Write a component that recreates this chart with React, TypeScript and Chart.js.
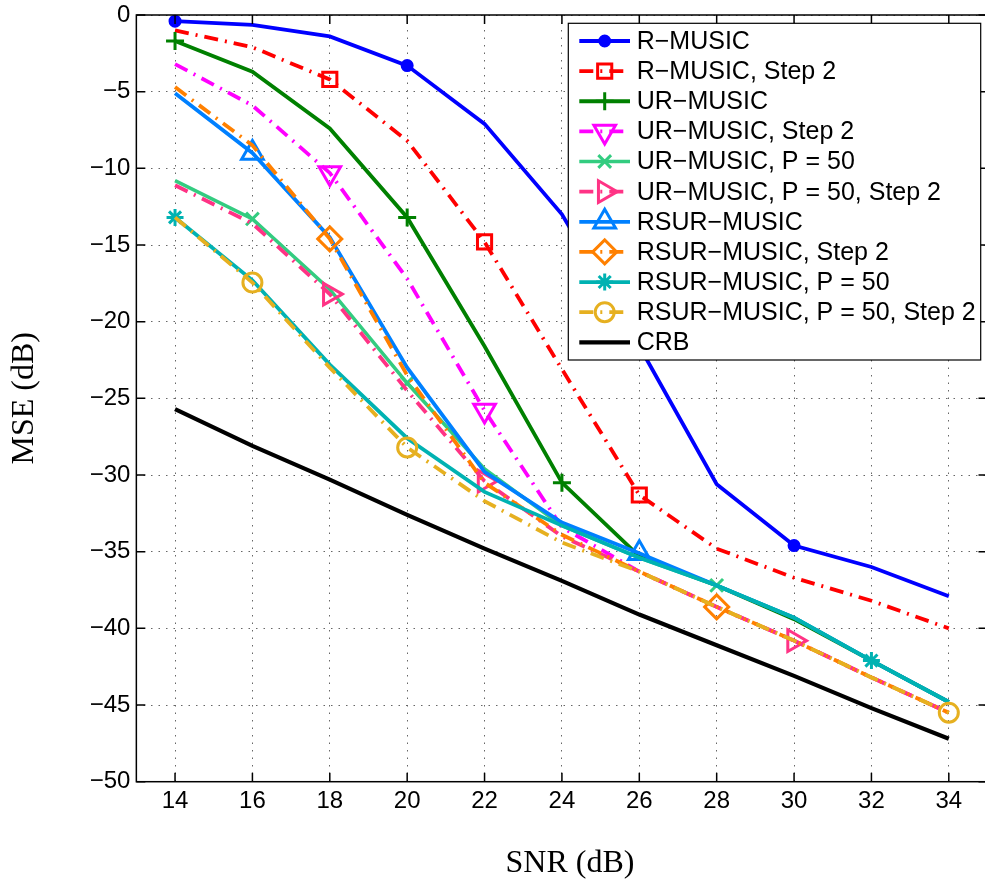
import React, { useEffect, useRef } from 'react';
import { Chart, registerables } from 'chart.js';
import { drawPoint } from 'chart.js/helpers';

Chart.register(...registerables);

// ---------- data ----------
const SNR = [14, 16, 18, 20, 22, 24, 26, 28, 30, 32, 34];
const X_TICKS = [14, 16, 18, 20, 22, 24, 26, 28, 30, 32, 34];
const Y_TICKS = [0, -5, -10, -15, -20, -25, -30, -35, -40, -45, -50];

const LABELS = [
  'R\u2212MUSIC',
  'R\u2212MUSIC, Step 2',
  'UR\u2212MUSIC',
  'UR\u2212MUSIC, Step 2',
  'UR\u2212MUSIC, P = 50',
  'UR\u2212MUSIC, P = 50, Step 2',
  'RSUR\u2212MUSIC',
  'RSUR\u2212MUSIC, Step 2',
  'RSUR\u2212MUSIC, P = 50',
  'RSUR\u2212MUSIC, P = 50, Step 2',
  'CRB',
];

const R_MUSIC = [-0.4, -0.65, -1.4, -3.3, -7.1, -13.0, -21.6, -30.6, -34.6, -36.0, -37.9];
const R_MUSIC_STEP2 = [-1.0, -2.1, -4.2, -8.2, -14.8, -23.1, -31.3, -34.8, -36.7, -38.2, -40.0];
const UR_MUSIC = [-1.7, -3.7, -7.4, -13.2, -21.6, -30.5, -35.3, -37.2, -39.4, -42.1, -44.8];
const UR_MUSIC_STEP2 = [-3.2, -5.9, -10.3, -17.2, -25.8, -33.4, -36.3, -38.6, -40.8, -43.2, -45.5];
const UR_MUSIC_P50 = [-10.8, -13.3, -17.9, -24.0, -29.6, -33.3, -35.4, -37.2, -39.3, -42.1, -44.8];
const UR_MUSIC_P50_STEP2 = [-11.1, -13.6, -18.2, -24.5, -30.4, -34.0, -36.3, -38.6, -40.8, -43.2, -45.5];
const RSUR_MUSIC = [-5.1, -9.0, -14.5, -23.0, -29.8, -33.1, -35.1, -37.2, -39.3, -42.1, -44.8];
const RSUR_MUSIC_STEP2 = [-4.7, -8.5, -14.6, -23.5, -30.5, -33.9, -36.3, -38.6, -40.8, -43.2, -45.5];
const RSUR_MUSIC_P50 = [-13.2, -17.3, -22.8, -27.6, -31.1, -33.3, -35.4, -37.2, -39.3, -42.1, -44.8];
const RSUR_MUSIC_P50_STEP2 = [-13.2, -17.45, -23.0, -28.2, -31.7, -34.4, -36.3, -38.6, -40.8, -43.2, -45.5];
const CRB = [-25.7, -28.1, -30.3, -32.6, -34.8, -36.9, -39.1, -41.1, -43.1, -45.2, -47.2];

const SERIES = [
  R_MUSIC, R_MUSIC_STEP2, UR_MUSIC, UR_MUSIC_STEP2, UR_MUSIC_P50, UR_MUSIC_P50_STEP2,
  RSUR_MUSIC, RSUR_MUSIC_STEP2, RSUR_MUSIC_P50, RSUR_MUSIC_P50_STEP2, CRB,
];

// indices of points that carry a marker
const MARKS = [
  [0, 3, 8], [2, 4, 6], [0, 3, 5], [2, 4], [1, 3, 7], [2, 4, 8],
  [1, 6], [2, 7], [0, 9], [1, 3, 10], [],
];

// ---------- styles ----------
const DASHDOT = [14, 7, 2, 7];
type Sty = { color: string; dash: number[]; width: number; marker: string | null; radius: number; rot: number; fill: boolean };
const STYLES: Sty[] = [
  { color: '#0000FF', dash: [], width: 3.8, marker: 'circle', radius: 5, rot: 0, fill: true },
  { color: '#FF0000', dash: DASHDOT, width: 3.8, marker: 'rect', radius: 10, rot: 0, fill: false },
  { color: '#008000', dash: [], width: 3.8, marker: 'cross', radius: 9, rot: 0, fill: false },
  { color: '#FF00FF', dash: DASHDOT, width: 3.8, marker: 'triangle', radius: 12.5, rot: 180, fill: false },
  { color: '#33CC80', dash: [], width: 3.5, marker: 'crossRot', radius: 9, rot: 0, fill: false },
  { color: '#FF3385', dash: DASHDOT, width: 3.8, marker: 'triangle', radius: 12.5, rot: 90, fill: false },
  { color: '#0080FF', dash: [], width: 3.8, marker: 'triangle', radius: 12.5, rot: 0, fill: false },
  { color: '#FF8000', dash: DASHDOT, width: 3.8, marker: 'rectRot', radius: 12, rot: 0, fill: false },
  { color: '#00B2B2', dash: [], width: 3.8, marker: 'star', radius: 8.5, rot: 0, fill: false },
  { color: '#E6B020', dash: DASHDOT, width: 3.8, marker: 'circle', radius: 9.5, rot: 0, fill: false },
  { color: '#000000', dash: [], width: 4.2, marker: null, radius: 0, rot: 0, fill: false },
];
const MARK_W = 3;

const W = 1000;
const H = 890;
const LEFT = 136.35;
const RIGHT = 988.7;
const TOP = 15;
const BOTTOM = 781.7;
const SANS = "'Liberation Sans', Arial, Helvetica, sans-serif";
const SERIF = "'Liberation Serif', 'Times New Roman', serif";

const minus = (v: number) => (v < 0 ? '\u2212' + Math.abs(v) : String(v));

const framePlugin = {
  id: 'frame',
  afterDraw(chart: any) {
    const ctx = chart.ctx as CanvasRenderingContext2D;
    const { left, right, top, bottom } = chart.chartArea;
    const xs = chart.scales.x;
    const ys = chart.scales.y;
    ctx.save();
    ctx.strokeStyle = '#000';
    ctx.lineWidth = 1.5;
    ctx.setLineDash([]);
    ctx.beginPath();
    const T = 9;
    X_TICKS.forEach((v) => {
      const p = xs.getPixelForValue(v);
      ctx.moveTo(p, bottom); ctx.lineTo(p, bottom - T);
      ctx.moveTo(p, top); ctx.lineTo(p, top + T);
    });
    Y_TICKS.forEach((v) => {
      const p = ys.getPixelForValue(v);
      ctx.moveTo(left, p); ctx.lineTo(left + T, p);
      ctx.moveTo(right, p); ctx.lineTo(right - T, p);
    });
    ctx.stroke();
    ctx.strokeRect(left, top, right - left, bottom - top);

    // axis titles
    ctx.fillStyle = '#000';
    ctx.font = `32px ${SERIF}`;
    ctx.textAlign = 'center';
    ctx.textBaseline = 'middle';
    ctx.fillText('SNR (dB)', 570, 864);
    ctx.save();
    ctx.translate(25, (top + bottom) / 2);
    ctx.rotate(-Math.PI / 2);
    ctx.font = `32px ${SERIF}`;
    ctx.fillText('MSE (dB)', 0, 0);
    ctx.restore();

    // legend
    const bx = 568.3, by = 23.3, bw = 980.7 - 568.3, bh = 360 - 23.3;
    ctx.fillStyle = '#fff';
    ctx.fillRect(bx, by, bw, bh);
    ctx.strokeStyle = '#000';
    ctx.lineWidth = 1.2;
    ctx.strokeRect(bx, by, bw, bh);
    LABELS.forEach((lab, i) => {
      const s = STYLES[i];
      const y = 41 + i * 30.13;
      ctx.save();
      ctx.strokeStyle = s.color;
      ctx.lineWidth = s.width;
      ctx.setLineDash(s.dash);
      ctx.beginPath();
      ctx.moveTo(579.3, y);
      ctx.lineTo(630, y);
      ctx.stroke();
      ctx.setLineDash([]);
      if (s.marker) {
        ctx.strokeStyle = s.color;
        ctx.fillStyle = s.fill ? s.color : 'rgba(0,0,0,0)';
        ctx.lineWidth = MARK_W;
        drawPoint(ctx, { pointStyle: s.marker as any, rotation: s.rot, radius: s.radius, borderWidth: MARK_W } as any, 604.7, y);
      }
      ctx.restore();
      ctx.fillStyle = '#000';
      ctx.font = `25px ${SANS}`;
      ctx.textAlign = 'left';
      ctx.textBaseline = 'middle';
      ctx.fillText(lab, 636.7, y + 1);
    });
    ctx.restore();
  },
};

export default function App() {
  const ref = useRef<HTMLCanvasElement | null>(null);
  useEffect(() => {
    document.body.style.margin = '0';
    document.body.style.overflow = 'hidden';
    document.documentElement.style.overflow = 'hidden';
    const canvas = ref.current;
    if (!canvas) return;
    const n = SERIES.length;
    const datasets = SERIES.map((vals, i) => {
      const s = STYLES[i];
      const marks = MARKS[i];
      return {
        label: LABELS[i],
        data: SNR.map((x, k) => ({ x, y: vals[k] })),
        borderColor: s.color,
        backgroundColor: s.color,
        borderWidth: s.width,
        borderDash: s.dash,
        tension: 0,
        fill: false,
        order: n - i,
        pointStyle: s.marker || 'circle',
        pointRotation: s.rot,
        pointRadius: (c: any) => (s.marker && marks.includes(c.dataIndex) ? s.radius : 0),
        pointHoverRadius: 0,
        pointBorderWidth: MARK_W,
        pointBorderColor: s.color,
        pointBackgroundColor: s.fill ? s.color : 'rgba(0,0,0,0)',
        clip: false as any,
      };
    });
    const chart = new Chart(canvas, {
      type: 'line',
      data: { datasets },
      options: {
        animation: false,
        responsive: false,
        devicePixelRatio: 1,
        events: [],
        layout: { padding: { top: TOP, left: 0, right: W - RIGHT, bottom: 0 } },
        plugins: { legend: { display: false }, tooltip: { enabled: false } },
        scales: {
          x: {
            type: 'linear',
            min: 13,
            max: 35,
            afterBuildTicks: (sc: any) => { sc.ticks = X_TICKS.map((v) => ({ value: v })); },
            afterFit: (sc: any) => { sc.height = H - BOTTOM; sc.paddingLeft = 0; sc.paddingRight = 0; },
            ticks: {
              color: '#000',
              font: { family: SANS, size: 24 },
              padding: 5,
              maxRotation: 0,
              autoSkip: false,
              callback: (v: any) => String(v),
            },
            grid: { color: '#666', lineWidth: 1, drawTicks: false },
            border: { display: false, dash: [1.5, 6] },
          },
          y: {
            type: 'linear',
            min: -50,
            max: 0,
            afterBuildTicks: (sc: any) => { sc.ticks = Y_TICKS.map((v) => ({ value: v })); },
            afterFit: (sc: any) => { sc.width = LEFT; sc.paddingTop = 0; sc.paddingBottom = 0; },
            ticks: {
              color: '#000',
              font: { family: SANS, size: 24 },
              padding: 6,
              autoSkip: false,
              callback: (v: any) => minus(Number(v)),
            },
            grid: { color: '#666', lineWidth: 1, drawTicks: false },
            border: { display: false, dash: [1.5, 6] },
          },
        },
      },
      plugins: [framePlugin],
    });
    return () => chart.destroy();
  }, []);
  return (
    <div style={{ width: W, height: H }}>
      <canvas ref={ref} width={W} height={H} style={{ display: 'block' }} />
    </div>
  );
}
